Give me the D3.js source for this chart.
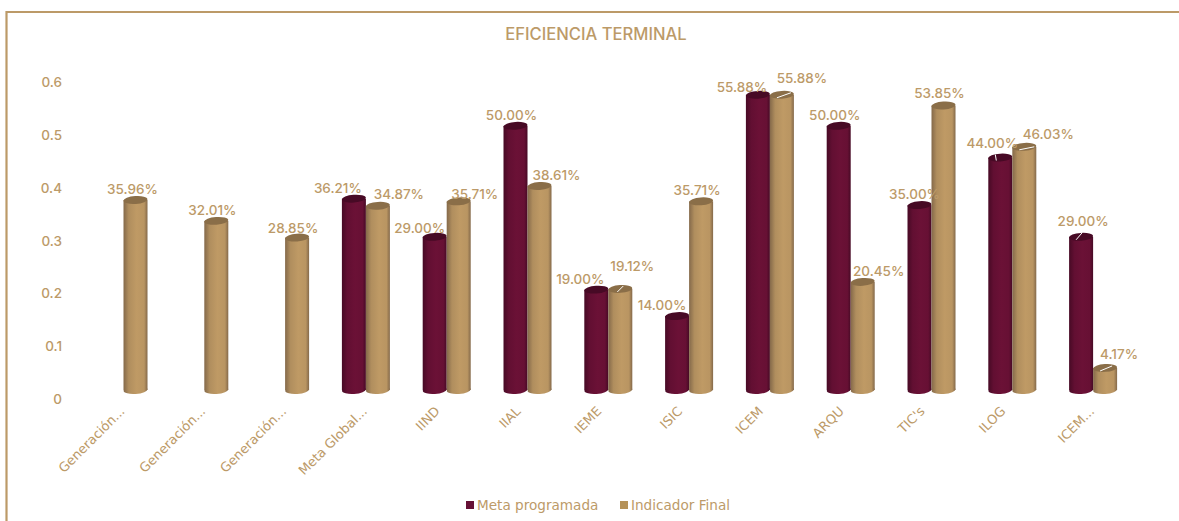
<!DOCTYPE html>
<html>
<head>
<meta charset="utf-8">
<script src="https://cdn.jsdelivr.net/npm/d3@7"></script>
<style>
html, body { margin: 0; padding: 0; background: #fff; }
svg { display: block; }
text { font-family: Inter, "Noto Sans", sans-serif; fill: #BC9A68; font-weight: 500; }
</style>
</head>
<body>
<svg id="chart" width="1179" height="521"></svg>
<script>
const categories = ['Generación...', 'Generación...', 'Generación...', 'Meta Global...', 'IIND', 'IIAL', 'IEME', 'ISIC', 'ICEM', 'ARQU', "TIC's", 'ILOG', 'ICEM...'];
const metaProgramada = [null, null, null, 0.3621, 0.29, 0.5, 0.19, 0.14, 0.5588, 0.5, 0.35, 0.44, 0.29];
const indicadorFinal = [0.3596, 0.3201, 0.2885, 0.3487, 0.3571, 0.3861, 0.1912, 0.3571, 0.5588, 0.2045, 0.5385, 0.4603, 0.0417];
const yTicks = [0, 0.1, 0.2, 0.3, 0.4, 0.5, 0.6];

// hand placed data labels, same as the moved ones in the original
const metaLabelShift = [null, null, null, [-16, -11], [-15, -9], [-4, -11], [-16, -11], [-15, -11], [-16, -8], [-4, -11], [-5, -11], [-8, -15], [2, -16]];
const finalLabelShift = [[-3, -11], [-4, -11], [-4, -10], [21, -12], [16, -7], [17, -11], [12, -23], [-4, -11], [20, -17], [16, -11], [-4, -12], [24, -13], [14, -14]];
const metaLeaders = [null, null, null, null, null, null, null, null, null, null, null, [-5, -3, -4, 3], [-5, 3, 1, -4]];
const finalLeaders = [null, null, null, null, null, null, [-3, 3, 3, -3], null, [-5, 3, 9, -2], null, null, [-5, 3, 10, 0], [-5, 3, 7, -2]];

const gold = '#BC9A68';
const margin = { top: 73, bottom: 131, left: 83.1, right: 45.5 };
const width = 1179, height = 521;

const svg = d3.select('#chart');
const defs = svg.append('defs');

function addGradient(id, edge, light) {
    const g = defs.append('linearGradient').attr('id', id);
    g.append('stop').attr('offset', '0%').attr('stop-color', edge);
    g.append('stop').attr('offset', '22%').attr('stop-color', d3.interpolateRgb(edge, light)(0.75));
    g.append('stop').attr('offset', '55%').attr('stop-color', light);
    g.append('stop').attr('offset', '86%').attr('stop-color', d3.interpolateRgb(edge, light)(0.9));
    g.append('stop').attr('offset', '100%').attr('stop-color', edge);
}
addGradient('gradMeta', '#470A25', '#6B1136');
addGradient('gradFinal', '#84694A', '#BF9A65');

// frame, only top and left show in the screenshot
svg.append('path')
    .attr('d', `M1179,12H6.5V${height}`)
    .attr('fill', 'none')
    .attr('stroke', gold)
    .attr('stroke-width', 2.2);

svg.append('text')
    .attr('x', 596).attr('y', 39.5)
    .attr('text-anchor', 'middle')
    .style('font-size', '16.6px')
    .text('EFICIENCIA TERMINAL');

const x = d3.scaleBand()
    .domain(categories.map((d, i) => i))
    .range([margin.left, width - margin.right])
    .paddingInner(0).paddingOuter(0);

const y = d3.scaleLinear().domain([0, 0.6]).range([height - margin.bottom, margin.top]);

const yAxis = svg.append('g')
    .attr('transform', 'translate(69,0)')
    .call(d3.axisLeft(y).tickValues(yTicks).tickSize(0).tickFormat(d => d === 0 ? '0' : d3.format('.1f')(d)));
yAxis.select('.domain').remove();
yAxis.selectAll('text')
    .attr('x', -7)
    .attr('dy', '1em')
    .style('font-size', '13.5px');

const xAxis = svg.append('g')
    .attr('transform', `translate(0,${height - margin.bottom})`)
    .call(d3.axisBottom(x).tickSize(0).tickFormat(i => categories[i]));
xAxis.select('.domain').remove();
// short labels sit further left than the truncated ones
xAxis.selectAll('text')
    .attr('text-anchor', 'end')
    .attr('x', 0).attr('y', 0).attr('dy', 0)
    .attr('transform', i => `translate(${categories[i].length > 5 ? 2 : -6},22) rotate(-45)`)
    .style('font-family', '"DejaVu Sans"')
    .style('font-size', '13px');

const barW = 24, rY = 3.9, tilt = -4;

function drawSeries(values, side, gradient, topColor) {
    const rows = values.map((v, i) => ({ v, i })).filter(d => d.v !== null);
    const cx = d => x(d.i) + x.bandwidth() / 2 + side * barW / 2;
    const bar = svg.append('g').selectAll('g').data(rows).enter().append('g');
    bar.append('ellipse')
        .attr('cx', cx).attr('cy', y(0))
        .attr('rx', barW / 2).attr('ry', rY)
        .attr('transform', d => `rotate(${tilt},${cx(d)},${y(0)})`)
        .attr('fill', `url(#${gradient})`);
    bar.append('rect')
        .attr('x', d => cx(d) - barW / 2)
        .attr('y', d => y(d.v))
        .attr('width', barW)
        .attr('height', d => y(0) - y(d.v))
        .attr('fill', `url(#${gradient})`);
    bar.append('ellipse')
        .attr('cx', cx).attr('cy', d => y(d.v))
        .attr('rx', barW / 2).attr('ry', rY)
        .attr('transform', d => `rotate(${tilt},${cx(d)},${y(d.v)})`)
        .attr('fill', topColor);
}
drawSeries(metaProgramada, -1, 'gradMeta', '#470A25');
drawSeries(indicadorFinal, 1, 'gradFinal', '#8A6E48');

function drawLabels(values, side, shift, leaders) {
    const rows = values.map((v, i) => ({ v, i })).filter(d => d.v !== null);
    const cx = d => x(d.i) + x.bandwidth() / 2 + side * barW / 2;
    const withLeader = rows.filter(d => leaders[d.i]);
    svg.append('g').selectAll('line').data(withLeader).enter().append('line')
        .attr('x1', d => cx(d) + leaders[d.i][0])
        .attr('y1', d => y(d.v) + leaders[d.i][1])
        .attr('x2', d => cx(d) + leaders[d.i][2])
        .attr('y2', d => y(d.v) + leaders[d.i][3])
        .attr('stroke', '#fff')
        .attr('stroke-width', 1);
    svg.append('g').selectAll('text').data(rows).enter().append('text')
        .attr('x', d => cx(d) + shift[d.i][0])
        .attr('y', d => y(d.v) + shift[d.i][1] + 5)
        .attr('text-anchor', 'middle')
        .style('font-size', '13.5px')
        .text(d => d3.format('.2f')(d.v * 100) + '%');
}
drawLabels(metaProgramada, -1, metaLabelShift, metaLeaders);
drawLabels(indicadorFinal, 1, finalLabelShift, finalLeaders);

// legend
const legendItems = [
    { name: 'Meta programada', color: '#661035', at: 466 },
    { name: 'Indicador Final', color: '#B59259', at: 620 }
];
const legend = svg.append('g').selectAll('g').data(legendItems).enter().append('g')
    .attr('transform', d => `translate(${d.at},501)`);
legend.append('rect').attr('width', 8).attr('height', 8).attr('fill', d => d.color);
legend.append('text')
    .attr('x', 11).attr('y', 9)
    .style('font-family', '"DejaVu Sans"')
    .style('font-size', '13.6px')
    .text(d => d.name);
</script>
</body>
</html>
